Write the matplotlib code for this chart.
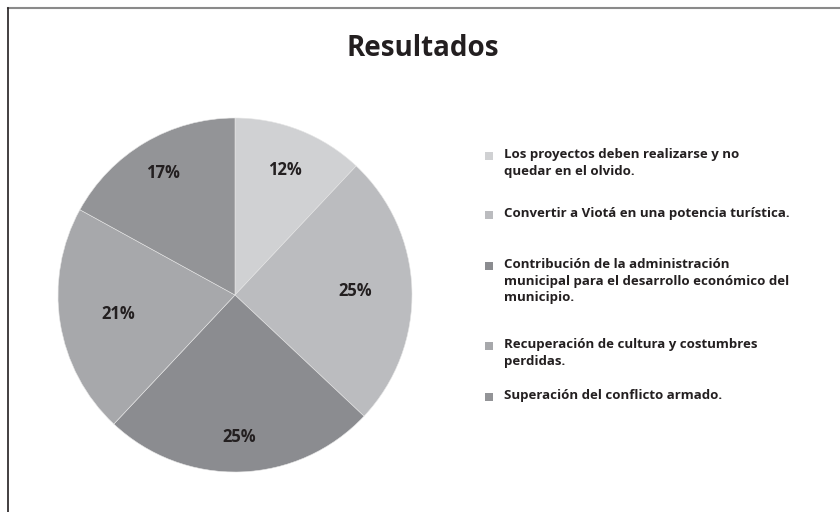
import matplotlib.pyplot as plt
import numpy as np
from matplotlib.lines import Line2D

# === Data ===
title = 'Resultados'
values = [12, 25, 25, 21, 17]
pct_labels = ['12%', '25%', '25%', '21%', '17%']
legend_labels = [
    'Los proyectos deben realizarse y no\nquedar en el olvido.',
    'Convertir a Viotá en una potencia turística.',
    'Contribución de la administración\nmunicipal para el desarrollo económico del\nmunicipio.',
    'Recuperación de cultura y costumbres\nperdidas.',
    'Superación del conflicto armado.',
]
colors = ['#d0d1d3', '#bbbcbf', '#8b8c90', '#a7a8ab', '#939497']

# layout (pixels from top of an 840x512 image)
W, H = 840, 512
legend_y = [156, 215, 266, 346, 397]
label_r = [0.76, 0.68, 0.80, 0.67, 0.80]
text_color = '#231f20'

plt.rcParams['font.family'] = ['Open Sans', 'DejaVu Sans']

fig = plt.figure(figsize=(8.4, 5.12), dpi=100)

# pie axes: center (235, 295), radius ~177 px
cx, cy, r = 235, 295, 177
ax = fig.add_axes([(cx - r) / W, 1 - (cy + r) / H, 2 * r / W, 2 * r / H])
wedges, _ = ax.pie(values, colors=colors, startangle=90, counterclock=False,
                   wedgeprops=dict(edgecolor='#e6e6e6', linewidth=0.4))
ax.set_xlim(-1, 1)
ax.set_ylim(-1, 1)
ax.set_aspect('equal')

for w, lab, d in zip(wedges, pct_labels, label_r):
    ang = np.deg2rad((w.theta1 + w.theta2) / 2)
    ax.text(d * np.cos(ang), d * np.sin(ang), lab, ha='center', va='center',
            fontsize=12, fontweight='bold', color=text_color)

# title
fig.text(423 / W, 1 - 48 / H, title, ha='center', va='center',
         fontsize=20, fontweight='bold', color=text_color)

# legend
for lab, y, c in zip(legend_labels, legend_y, colors):
    fig.patches.append(plt.Rectangle((485 / W, 1 - (y + 4) / H), 8 / W, 8 / H,
                                     transform=fig.transFigure, facecolor=c,
                                     edgecolor='none'))
    fig.text(504 / W, 1 - (y - 8) / H, lab, ha='left', va='top',
             fontsize=9.5, fontweight='bold', color=text_color, linespacing=1.35)

# frame lines
fig.add_artist(Line2D([8 / W, 1], [1 - 8 / H, 1 - 8 / H], color='#8a8a8a', lw=1.5))
fig.add_artist(Line2D([8 / W, 8 / W], [0, 1 - 8 / H], color='#231f20', lw=1.2))

fig.savefig('out.png', dpi=100, facecolor='white')
